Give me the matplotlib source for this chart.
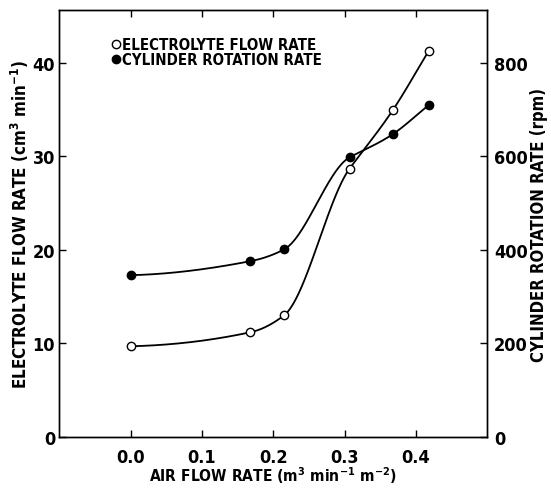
import numpy as np
import matplotlib
matplotlib.use("Agg")
import matplotlib.pyplot as plt

# air flow rate (m3 min-1 m-2)
air_flow = [0.0, 0.168, 0.215, 0.307, 0.368, 0.418]
# electrolyte flow rate (cm3 min-1)
electrolyte_flow = [9.7, 11.2, 13.0, 28.7, 35.0, 41.3]
# cylinder rotation rate (rpm)
rotation_rpm = [346, 376, 401, 598, 648, 710]

x_ticks = [0.0, 0.1, 0.2, 0.3, 0.4]
left_ticks = [0, 10, 20, 30, 40]
right_ticks = [0, 200, 400, 600, 800]

plt.rcParams["font.family"] = ["DejaVu Sans"]
plt.rcParams["font.stretch"] = "condensed"
plt.rcParams["font.weight"] = "bold"
plt.rcParams["axes.labelweight"] = "bold"
plt.rcParams["mathtext.fontset"] = "custom"
plt.rcParams["mathtext.rm"] = "DejaVu Sans:weight=bold:stretch=condensed"
plt.rcParams["mathtext.default"] = "regular"


def smooth_curve(x, y, xs, n_straight=2):
    """Hermite curve through the points; the last segments are kept straight."""
    x = np.asarray(x, float)
    y = np.asarray(y, float)
    h = np.diff(x)
    d = np.diff(y) / h
    m = np.zeros_like(y)
    for k in range(1, len(x) - 1):
        if d[k - 1] * d[k] > 0:
            w1 = 2 * h[k] + h[k - 1]
            w2 = h[k] + 2 * h[k - 1]
            m[k] = (w1 + w2) / (w1 / d[k - 1] + w2 / d[k])
    m[0] = d[0] * 0.2
    m[-1] = d[-1]
    # straight run at the high end
    for k in range(len(x) - 1 - n_straight, len(x) - 1):
        m[k] = d[k]
    m[-2] = 0.5 * (d[-2] + d[-1])
    idx = np.clip(np.searchsorted(x, xs) - 1, 0, len(h) - 1)
    t = (xs - x[idx]) / h[idx]
    h00 = 2 * t**3 - 3 * t**2 + 1
    h10 = t**3 - 2 * t**2 + t
    h01 = -2 * t**3 + 3 * t**2
    h11 = t**3 - t**2
    return (h00 * y[idx] + h10 * h[idx] * m[idx]
            + h01 * y[idx + 1] + h11 * h[idx] * m[idx + 1])


fig = plt.figure(figsize=(5.51, 4.89), dpi=100)
ax = fig.add_axes([0.1076, 0.1043, 0.7768, 0.8722])
ax2 = ax.twinx()

xs = np.linspace(air_flow[0], air_flow[-1], 500)
ax.plot(xs, smooth_curve(air_flow, electrolyte_flow, xs), color="black", lw=1.3)
ax.plot(air_flow, electrolyte_flow, "o", ms=6, mfc="white", mec="black",
        mew=1.0, label="ELECTROLYTE FLOW RATE")
ax2.plot(xs, smooth_curve(air_flow, rotation_rpm, xs), color="black", lw=1.3)
ax2.plot(air_flow, rotation_rpm, "o", ms=6, mfc="black", mec="black",
         label="CYLINDER ROTATION RATE")

ax.set_xlim(-0.1, 0.5)
ax.set_ylim(0, 45.6)
ax2.set_ylim(0, 912)
ax.set_xticks(x_ticks)
ax.set_xticklabels([f"{v:.1f}" for v in x_ticks])
ax.set_yticks(left_ticks)
ax2.set_yticks(right_ticks)

ax.tick_params(axis="x", direction="in", length=5, width=1, top=True,
               labelsize=13, pad=8)
ax.tick_params(axis="y", direction="in", length=5, width=1, labelsize=13, pad=3)
ax2.tick_params(axis="y", direction="in", length=5, width=1, labelsize=13, pad=5)
for a in (ax, ax2):
    for s in a.spines.values():
        s.set_linewidth(1.0)

ax.set_xlabel("AIR FLOW RATE (m$^3$ min$^{-1}$ m$^{-2}$)", fontsize=11.2,
              labelpad=-1)
ax.set_ylabel("ELECTROLYTE FLOW RATE (cm$^3$ min$^{-1}$)", fontsize=12.2,
              labelpad=1)
ax2.set_ylabel("CYLINDER ROTATION RATE (rpm)", fontsize=12, labelpad=1.5)

h1, l1 = ax.get_legend_handles_labels()
h2, l2 = ax2.get_legend_handles_labels()
ax.legend(h1 + h2, l1 + l2, loc="upper left", bbox_to_anchor=(0.109, 0.951),
          frameon=False, handlelength=0.5, handletextpad=0.15,
          labelspacing=0.0, borderaxespad=0, fontsize=10.8)

fig.savefig("out.png", dpi=100)
